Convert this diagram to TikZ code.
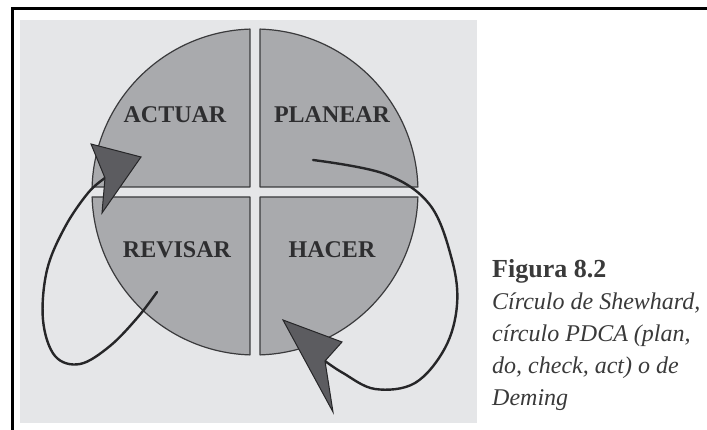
\documentclass[tikz,border=0pt]{standalone}
\usepackage{fontspec}
\setmainfont{Liberation Serif}
\definecolor{bggray}{HTML}{E5E6E8}
\definecolor{quadgray}{HTML}{A9AAAD}
\definecolor{edgegray}{HTML}{3A3A3C}
\definecolor{linegray}{HTML}{262628}
\definecolor{headgray}{HTML}{5C5C60}
\definecolor{lblgray}{HTML}{2E2E30}
\definecolor{capgray}{HTML}{3A3A3A}
\begin{document}
\begin{tikzpicture}[x=1pt,y=1pt,
  quad/.style={fill=quadgray, draw=edgegray, line width=1.2pt, line join=round},
  loopline/.style={draw=linegray, line width=2.4pt, line cap=round},
  headfill/.style={fill=headgray, draw=linegray, line width=1pt, line join=miter},
  lbl/.style={anchor=base, inner sep=0pt, text=lblgray, font=\fontsize{24}{24}\selectfont\bfseries},
  captext/.style={anchor=base west, inner sep=0pt, text=capgray, font=\fontsize{24}{24}\selectfont\itshape},
  frameline/.style={draw=black, line width=3pt}]
\useasboundingbox (0,0) rectangle (707,430);
\fill[white] (0,0) rectangle (707,430);
% panel and frame
\fill[bggray] (20,7) rectangle (477,410);
\draw[frameline] (12.5,0) -- (12.5,421) -- (707,421);
% the four quadrants of the cycle
\draw[quad] (260,243) -- ([shift={(255,238)}]88.24:163pt)
  arc[start angle=88.24, end angle=1.76, radius=163pt] -- cycle;
\draw[quad] (250,243) -- ([shift={(255,238)}]178.24:163pt)
  arc[start angle=178.24, end angle=91.76, radius=163pt] -- cycle;
\draw[quad] (250,233) -- ([shift={(255,238)}]268.24:163pt)
  arc[start angle=268.24, end angle=181.76, radius=163pt] -- cycle;
\draw[quad] (260,233) -- ([shift={(255,238)}]-1.76:163pt)
  arc[start angle=-1.76, end angle=-88.24, radius=163pt] -- cycle;
% labels
\node[lbl] (act) at (175,307) {ACTUAR};
\node[lbl] (plan) at (332,307) {PLANEAR};
\node[lbl] (rev) at (177,172) {REVISAR};
\node[lbl] (hac) at (332,172) {HACER};
% loop from PLANEAR round to HACER
\coordinate (planStart) at (313,270);
\coordinate (doNotch) at (325,69);
\draw[loopline] plot[smooth, tension=0.6] coordinates {(planStart) (385,256) (430,225)
  (452,170) (457,125) (445,82) (415,47) (375,41) (343,57) (doNotch)};
\fill[headfill] (283,110) -- (342,88) -- (doNotch) -- (333,18) -- cycle;
% loop from REVISAR round to ACTUAR
\coordinate (checkStart) at (157,138);
\coordinate (actNotch) at (105,252);
\draw[loopline] plot[smooth, tension=0.6] coordinates {(checkStart) (138,113) (110,84)
  (80,66) (55,74) (43,110) (47,160) (65,203) (88,237) (actNotch)};
\fill[headfill] (141,273) -- (91,286) -- (actNotch) -- (102,217) -- cycle;
% caption
\node[captext, font=\fontsize{26}{26}\selectfont\bfseries] (fig) at (492,152) {Figura 8.2};
\node[captext] (l1) at (492,120) {Círculo de Shewhard,};
\node[captext] (l2) at (492,88) {círculo PDCA (plan,};
\node[captext] (l3) at (492,56) {do, check, act) o de};
\node[captext] (l4) at (492,24) {Deming};
\end{tikzpicture}
\end{document}
